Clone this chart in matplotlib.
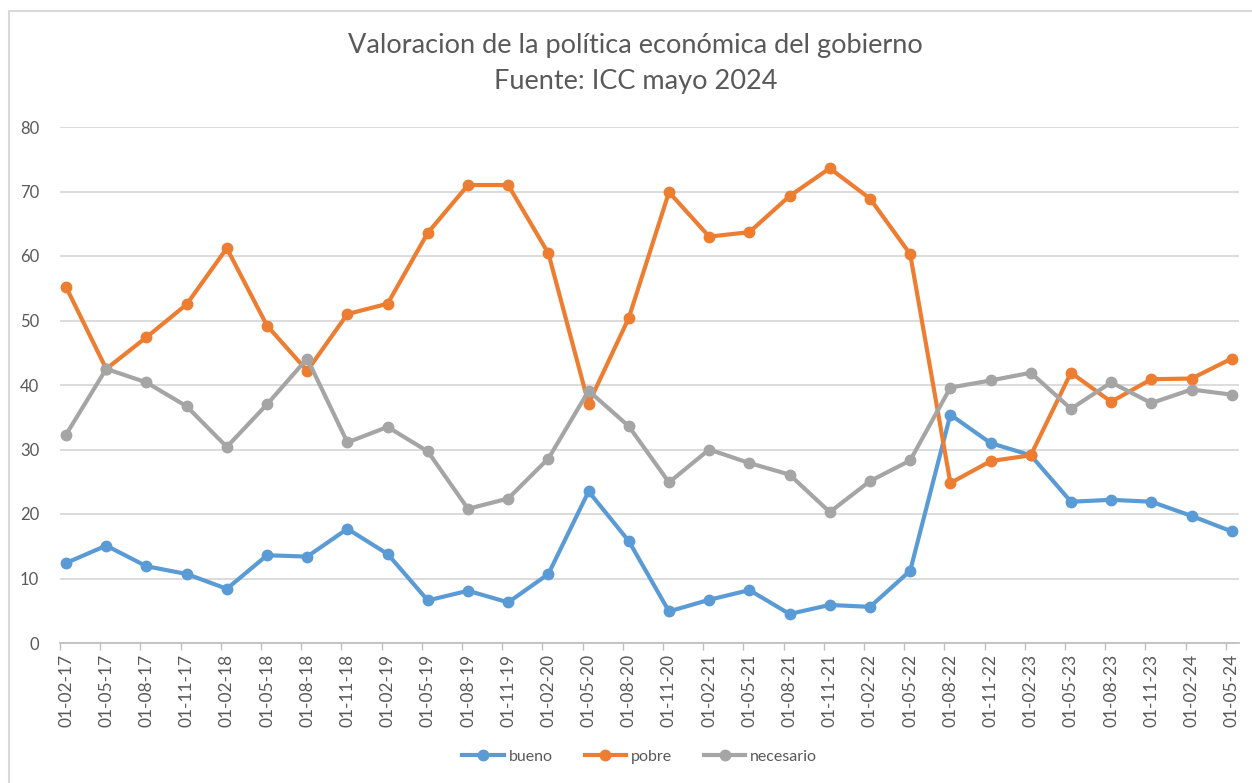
import numpy as np
import matplotlib.pyplot as plt
from matplotlib.patches import Rectangle

plt.rcParams['font.family'] = ['Lato', 'DejaVu Sans']

fechas = ['01-02-17', '01-05-17', '01-08-17', '01-11-17', '01-02-18', '01-05-18',
          '01-08-18', '01-11-18', '01-02-19', '01-05-19', '01-08-19', '01-11-19',
          '01-02-20', '01-05-20', '01-08-20', '01-11-20', '01-02-21', '01-05-21',
          '01-08-21', '01-11-21', '01-02-22', '01-05-22', '01-08-22', '01-11-22',
          '01-02-23', '01-05-23', '01-08-23', '01-11-23', '01-02-24', '01-05-24']

bueno = [12.4, 15.1, 11.9, 10.7, 8.4, 13.6, 13.4, 17.7, 13.8, 6.6,
         8.1, 6.3, 10.7, 23.5, 15.8, 4.9, 6.7, 8.2, 4.5, 5.9,
         5.6, 11.2, 35.4, 31.0, 29.1, 21.9, 22.2, 21.9, 19.7, 17.3]

pobre = [55.2, 42.5, 47.4, 52.5, 61.2, 49.2, 42.2, 51.0, 52.6, 63.6,
         71.0, 71.0, 60.4, 37.1, 50.4, 69.9, 63.0, 63.7, 69.3, 73.6,
         68.9, 60.3, 24.8, 28.2, 29.1, 41.9, 37.4, 40.9, 41.0, 44.1]

necesario = [32.3, 42.5, 40.4, 36.7, 30.4, 37.0, 44.1, 31.1, 33.5, 29.7,
             20.8, 22.4, 28.6, 39.1, 33.6, 24.9, 30.0, 27.9, 26.1, 20.3,
             25.1, 28.3, 39.6, 40.7, 41.9, 36.3, 40.4, 37.2, 39.3, 38.5]

series = [('bueno', bueno, '#5B9BD5'),
          ('pobre', pobre, '#ED7D31'),
          ('necesario', necesario, '#A5A5A5')]

text_color = '#595959'
grid_color = '#D9D9D9'

W, H = 1252, 783
fig = plt.figure(figsize=(W / 100, H / 100), dpi=100)

# chart border
fig.patches.append(Rectangle((9 / W, -0.01), 1.1, 1 - 11 / H + 0.01,
                             transform=fig.transFigure, fill=False,
                             edgecolor=grid_color, linewidth=1.5))

ax = fig.add_axes([60 / W, 1 - 643 / H, (1239 - 60) / W, (643 - 127) / H])

x = np.arange(len(fechas))
for name, vals, color in series:
    ax.plot(x, vals, color=color, linewidth=3.0, marker='o', markersize=7.5,
            label=name, solid_joinstyle='round')

ax.set_ylim(0, 80)
ax.set_yticks(np.arange(0, 81, 10))
ax.set_xlim(-0.15, 29.18)

# labels centred on the points, tick marks slightly to the left
ax.set_xticks(x)
ax.set_xticklabels(fechas, rotation=90)
ax.set_xticks(x - 0.15, minor=True)
ax.tick_params(axis='x', which='major', length=0, pad=8, labelsize=12.5,
               labelcolor=text_color)
ax.tick_params(axis='x', which='minor', length=5, color='#BFBFBF', width=1,
               direction='out')
ax.tick_params(axis='y', length=0, pad=15, labelsize=12, labelcolor=text_color)

ax.grid(axis='y', color=grid_color, linewidth=1.3)
ax.set_axisbelow(True)
for side in ['top', 'right', 'left']:
    ax.spines[side].set_visible(False)
ax.spines['bottom'].set_color('#BFBFBF')
ax.spines['bottom'].set_linewidth(1.3)

fig.text(635.5 / W, 1 - 46 / H, 'Valoracion de la política económica del gobierno',
         ha='center', va='center', fontsize=19.5, color=text_color)
fig.text(635.5 / W, 1 - 82 / H, 'Fuente: ICC mayo 2024',
         ha='center', va='center', fontsize=19.5, color=text_color)

fig.legend(loc='center', bbox_to_anchor=(0.511, 1 - 757 / H), ncol=3,
           frameon=False, fontsize=11.5, labelcolor=text_color,
           handlelength=2.6, columnspacing=2.0, handletextpad=0.3)

fig.savefig('out.png', dpi=100)
